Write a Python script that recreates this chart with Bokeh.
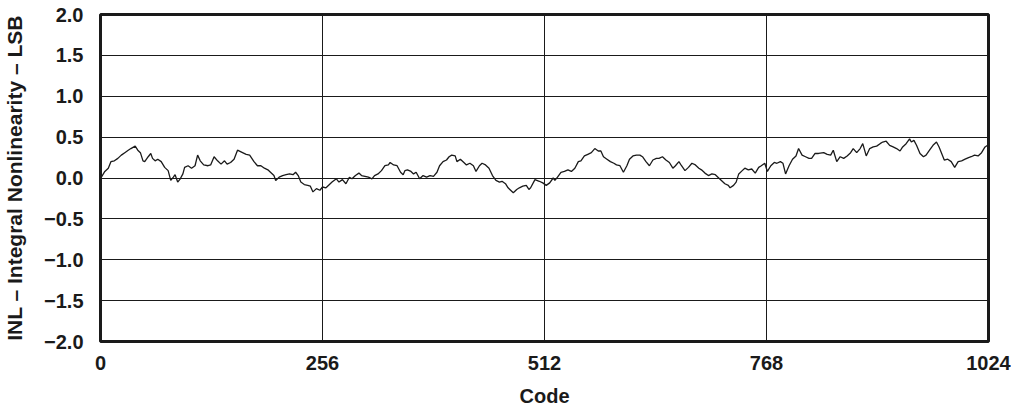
from bokeh.plotting import figure
from bokeh.models import Range1d, FixedTicker
from bokeh.embed import file_html
from bokeh.resources import INLINE

code = [0, 1, 5, 9, 12, 16, 20, 24, 28, 32, 35, 40, 43, 46, 49, 51, 55, 58, 60, 63, 66, 70, 74, 78, 81, 84, 86, 89, 92, 95, 97, 101, 105, 109, 112, 115, 119, 124, 127, 131, 135, 139, 143, 146, 150, 154, 158, 162,
        168, 172, 177, 181, 185, 189, 193, 196, 200, 202, 206, 210, 214, 218, 222, 225, 228, 231, 235, 239, 242, 245, 249, 253, 256, 260, 264, 267, 272, 275, 279, 283, 287, 290, 294, 298, 301, 305, 309, 313, 316, 320, 324, 328, 332,
        334, 338, 342, 346, 349, 351, 354, 358, 361, 364, 368, 372, 376, 380, 384, 388, 391, 395, 399, 402, 405, 409, 411, 415, 419, 422, 426, 430, 433, 437, 440, 444, 448, 452, 456, 460, 463, 467, 470, 472, 476, 480, 483, 487, 491, 494, 496, 501,
        506, 510, 514, 518, 522, 524, 527, 531, 535, 539, 543, 547, 551, 554, 558, 562, 566, 570, 574, 577, 580, 584, 588, 592, 595, 599, 603, 607, 610, 614, 618, 622, 625, 629, 633, 637, 641, 644, 648, 652, 656, 660, 663,
        667, 670, 674, 678, 682, 686, 690, 693, 697, 701, 705, 709, 712, 716, 720, 724, 726, 730, 733, 736, 740, 743, 747, 751, 755, 759, 762, 766, 769, 773, 777, 780, 784, 787, 790, 794, 798, 802, 805, 809, 813, 817, 820, 824, 828,
        834, 838, 842, 845, 849, 853, 857, 861, 865, 868, 872, 876, 879, 883, 887, 891, 895, 899, 902, 906, 910, 914, 918, 922, 925, 929, 933, 935, 938, 941, 945, 949, 952, 956, 960, 964, 967, 970, 973, 977, 981, 985, 989, 993, 997, 1001, 1004, 1008, 1012, 1016, 1020, 1023]

inl = [0.00, 0.01, 0.08, 0.12, 0.20, 0.21, 0.24, 0.28, 0.31, 0.34, 0.36, 0.39, 0.34, 0.31, 0.21, 0.20, 0.26, 0.30, 0.24, 0.21, 0.23, 0.20, 0.13, 0.09, -0.03, 0.01, 0.04, -0.05, -0.01, 0.05, 0.13, 0.15, 0.12, 0.15, 0.28, 0.21, 0.16, 0.15, 0.16, 0.26, 0.21, 0.17, 0.21, 0.17, 0.19, 0.23, 0.34, 0.32,
       0.29, 0.28, 0.20, 0.15, 0.15, 0.12, 0.10, 0.07, 0.03, -0.03, 0.01, 0.03, 0.04, 0.05, 0.04, 0.07, 0.03, -0.05, -0.08, -0.09, -0.10, -0.17, -0.13, -0.15, -0.11, -0.12, -0.08, -0.05, -0.01, -0.05, -0.02, -0.07, 0.01, -0.01, 0.03, 0.06, 0.03, 0.02, 0.01, -0.01, 0.03, 0.05, 0.09, 0.15, 0.16,
       0.19, 0.16, 0.15, 0.07, 0.04, 0.09, 0.10, 0.08, 0.05, 0.07, -0.01, 0.03, 0.01, 0.03, 0.02, 0.07, 0.15, 0.20, 0.22, 0.26, 0.28, 0.27, 0.20, 0.23, 0.19, 0.16, 0.18, 0.15, 0.08, 0.15, 0.18, 0.16, 0.12, 0.03, -0.03, -0.05, -0.04, -0.07, -0.12, -0.14, -0.18, -0.14, -0.12, -0.10, -0.09, -0.14, -0.12, -0.02,
       -0.04, -0.06, -0.09, -0.06, 0.00, -0.03, 0.01, 0.07, 0.08, 0.10, 0.08, 0.12, 0.20, 0.21, 0.27, 0.29, 0.31, 0.36, 0.33, 0.33, 0.26, 0.23, 0.20, 0.18, 0.16, 0.15, 0.07, 0.15, 0.23, 0.27, 0.28, 0.28, 0.26, 0.20, 0.15, 0.22, 0.24, 0.24, 0.26, 0.22, 0.19, 0.12, 0.15,
       0.20, 0.15, 0.09, 0.13, 0.18, 0.16, 0.12, 0.10, 0.06, 0.03, 0.05, 0.04, 0.01, -0.03, -0.07, -0.09, -0.12, -0.09, -0.05, 0.05, 0.09, 0.12, 0.10, 0.11, 0.06, 0.13, 0.15, 0.18, 0.08, 0.15, 0.19, 0.18, 0.20, 0.18, 0.05, 0.15, 0.23, 0.27, 0.36, 0.28, 0.26, 0.24, 0.24, 0.30, 0.30,
       0.31, 0.29, 0.28, 0.34, 0.20, 0.26, 0.24, 0.27, 0.31, 0.36, 0.31, 0.36, 0.42, 0.27, 0.36, 0.38, 0.39, 0.42, 0.44, 0.45, 0.40, 0.38, 0.36, 0.33, 0.38, 0.42, 0.48, 0.44, 0.46, 0.40, 0.30, 0.26, 0.28, 0.34, 0.40, 0.44, 0.38, 0.30, 0.22, 0.23, 0.20, 0.13, 0.20, 0.21, 0.23, 0.25, 0.26, 0.28, 0.27, 0.31, 0.38, 0.40]

xticks = [0, 256, 512, 768, 1024]
yticks = [-2.0, -1.5, -1.0, -0.5, 0.0, 0.5, 1.0, 1.5, 2.0]
ytick_labels = ["\u22122.0", "\u22121.5", "\u22121.0", "\u22120.5", "0.0", "0.5", "1.0", "1.5", "2.0"]

FONT = "Liberation Sans"

p = figure(width=1011, height=409, output_backend="svg", toolbar_location=None,
           x_range=Range1d(0, 1024), y_range=Range1d(-2, 2),
           min_border_left=97, min_border_right=23, min_border_top=14, min_border_bottom=68)

p.outline_line_color = "#1a1a1a"
p.outline_line_width = 3
p.background_fill_color = "white"
p.border_fill_color = "white"

p.xaxis.ticker = FixedTicker(ticks=xticks)
p.yaxis.ticker = FixedTicker(ticks=yticks)
p.yaxis.major_label_overrides = {v: s for v, s in zip(yticks, ytick_labels)}
p.xaxis.major_label_overrides = {v: str(v) for v in xticks}

for ax in (p.xaxis, p.yaxis):
    ax.axis_line_color = None
    ax.major_tick_line_color = None
    ax.minor_tick_line_color = None
    ax.major_label_text_font = FONT
    ax.major_label_text_font_style = "bold"
    ax.major_label_text_font_size = "20px"
    ax.major_label_text_color = "#1a1a1a"
    ax.axis_label_text_font = FONT
    ax.axis_label_text_font_style = "bold"
    ax.axis_label_text_font_size = "20px"
    ax.axis_label_text_color = "#1a1a1a"

p.yaxis.axis_label_text_font_size = "21px"
p.xaxis.axis_label = "Code"
p.yaxis.axis_label = "INL \u2013 Integral Nonlinearity \u2013 LSB"
p.xaxis.major_label_standoff = 8
p.xaxis.axis_label_standoff = 12
p.yaxis.major_label_standoff = 11
p.yaxis.axis_label_standoff = 15

p.xgrid.grid_line_color = "#1a1a1a"
p.ygrid.grid_line_color = "#1a1a1a"
p.xgrid.grid_line_width = 1
p.ygrid.grid_line_width = 1

p.line(code, inl, line_color="#1a1a1a", line_width=1.3)

open("out.html", "w").write(file_html(p, INLINE))
